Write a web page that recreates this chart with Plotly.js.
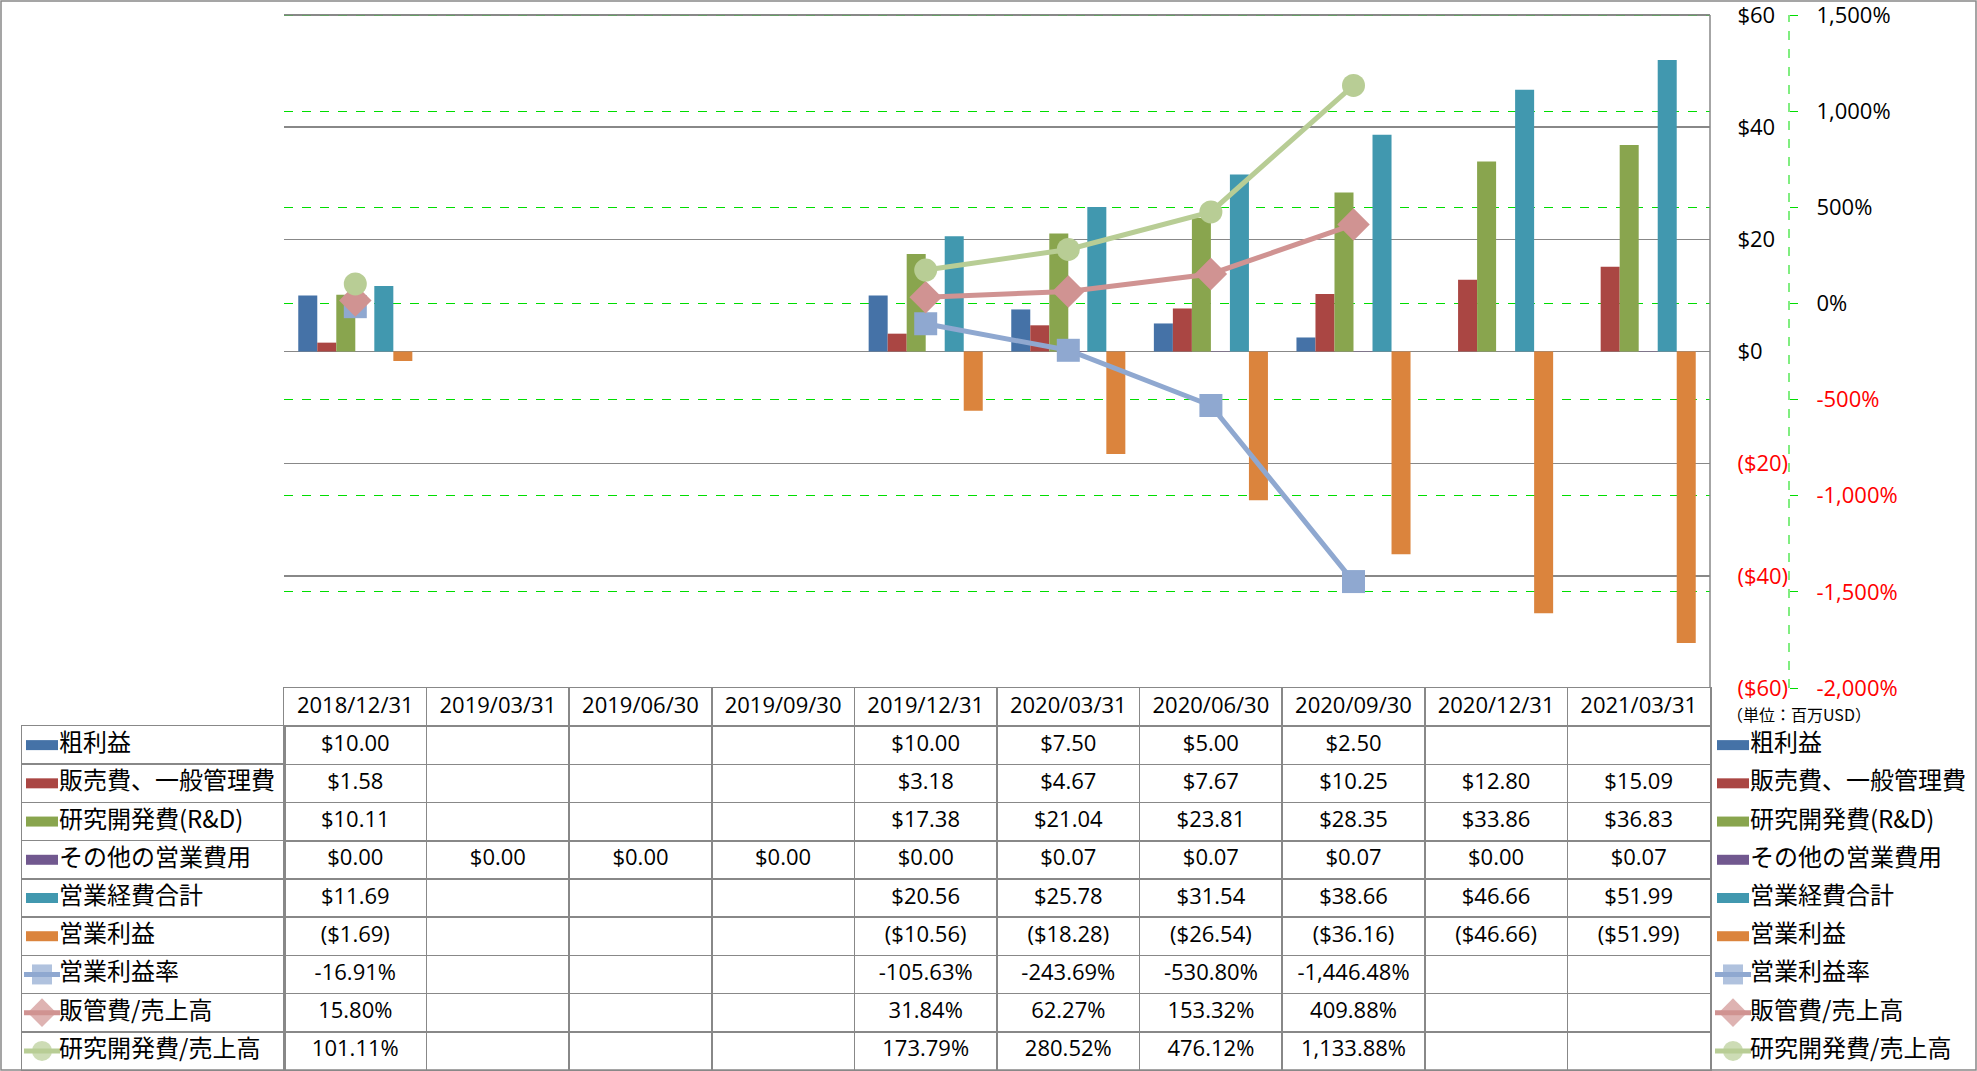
<!DOCTYPE html>
<html>
<head>
<meta charset="utf-8">
<script src="https://cdn.plot.ly/plotly-3.0.1.min.js"></script>
<style>
html,body{margin:0;padding:0;background:#fff;}
#chart{width:1977px;height:1071px;}
</style>
</head>
<body>
<div id="chart"></div>
<script>
// ---------------- DATA ----------------
const dates = ['2018/12/31','2019/03/31','2019/06/30','2019/09/30','2019/12/31','2020/03/31','2020/06/30','2020/09/30','2020/12/31','2021/03/31'];

const grossProfit     = [10.00, null, null, null, 10.00, 7.50, 5.00, 2.50, null, null];
const sgaExpense      = [1.58, null, null, null, 3.18, 4.67, 7.67, 10.25, 12.80, 15.09];
const rdExpense       = [10.11, null, null, null, 17.38, 21.04, 23.81, 28.35, 33.86, 36.83];
const otherOpex       = [0.00, 0.00, 0.00, 0.00, 0.00, 0.07, 0.07, 0.07, 0.00, 0.07];
const totalOpex       = [11.69, null, null, null, 20.56, 25.78, 31.54, 38.66, 46.66, 51.99];
const operatingIncome = [-1.69, null, null, null, -10.56, -18.28, -26.54, -36.16, -46.66, -51.99];

const operatingMargin = [-16.91, null, null, null, -105.63, -243.69, -530.80, -1446.48, null, null];
const sgaRatio        = [15.80, null, null, null, 31.84, 62.27, 153.32, 409.88, null, null];
const rdRatio         = [101.11, null, null, null, 173.79, 280.52, 476.12, 1133.88, null, null];

const barNames  = ['粗利益','販売費、一般管理費','研究開発費(R&D)','その他の営業費用','営業経費合計','営業利益'];
const lineNames = ['営業利益率','販管費/売上高','研究開発費/売上高'];

const yTickVals  = [-60, -40, -20, 0, 20, 40, 60];
const yTickText  = ['($60)','($40)','($20)','$0','$20','$40','$60'];
const y2TickVals = [-2000, -1500, -1000, -500, 0, 500, 1000, 1500];
const y2TickText = ['-2,000%','-1,500%','-1,000%','-500%','0%','500%','1,000%','1,500%'];
const unitLabel  = '（単位：百万USD）';

// ---------------- STYLES ----------------
const barColors  = ['#4572A7','#AA4643','#89A54E','#71588F','#4198AF','#DB843D'];
const lineColors = ['#8FA8D0','#D09392','#B8CD95'];
const markerSymbols = ['square','diamond','circle'];
const markerSizes   = [23, 25, 23];
const GRID = '#888888';
const GREEN = '#00dd00';
const LATIN = '"Open Sans", "Noto Sans CJK JP", sans-serif';
const CJK = '"Noto Sans CJK JP", sans-serif';

const W = 1977, H = 1071;
const px = x => x / W;
const py = y => 1 - y / H;

// axis scale: primary 60 at y=15px, -60 at y=688px; extend range above the top tick
const Y_PER_PX  = 120 / (688 - 15);
const Y2_PER_PX = 3500 / (688 - 15);
const TOP_PAD_PX = 12;

const barData  = [grossProfit, sgaExpense, rdExpense, otherOpex, totalOpex, operatingIncome];
const lineData = [operatingMargin, sgaRatio, rdRatio];

function fmtMoney(v){
  if (v === null || v === undefined) return '';
  const s = Math.abs(v).toLocaleString('en-US',{minimumFractionDigits:2,maximumFractionDigits:2});
  return v < 0 ? '($' + s + ')' : '$' + s;
}
function fmtPct(v){
  if (v === null || v === undefined) return '';
  return v.toLocaleString('en-US',{minimumFractionDigits:2,maximumFractionDigits:2}) + '%';
}
function redIfNeg(vals, texts){
  return texts.map((t,i) => vals[i] < 0 ? '<span style="color:#ff0000">' + t + '</span>' : t);
}

const traces = [];

// bars
barData.forEach((arr, i) => {
  traces.push({type:'bar', x:dates, y:arr, name:barNames[i], xaxis:'x', yaxis:'y',
    marker:{color:barColors[i], line:{width:0}}, showlegend:false, hoverinfo:'skip'});
});
// lines
lineData.forEach((arr, i) => {
  traces.push({type:'scatter', mode:'lines+markers', x:dates, y:arr, name:lineNames[i],
    xaxis:'x', yaxis:'y2', connectgaps:false,
    line:{color:lineColors[i], width:5},
    marker:{symbol:markerSymbols[i], size:markerSizes[i], color:lineColors[i], line:{width:0}},
    showlegend:false, hoverinfo:'skip'});
});

// table header
traces.push({type:'scatter', mode:'text', x:dates, y:dates.map(()=>0), text:dates,
  xaxis:'x2', yaxis:'y3', textposition:'middle center',
  textfont:{family:LATIN, size:22, color:'#000'}, showlegend:false, hoverinfo:'skip'});

// table rows
const allNames = barNames.concat(lineNames);
const rowTexts = barData.map(a => a.map(fmtMoney)).concat(lineData.map(a => a.map(fmtPct)));
rowTexts.forEach((txt, r) => {
  traces.push({type:'scatter', mode:'text', x:dates, y:dates.map(()=>r+1), text:txt,
    xaxis:'x2', yaxis:'y3', textposition:'middle center',
    textfont:{family:LATIN, size:22, color:'#000'}, showlegend:false, hoverinfo:'skip'});
});

// legend keys (left column in table and right side)
function addKeys(xa, ya, x0){
  allNames.forEach((nm, r) => {
    if (r < 6) {
      traces.push({type:'scatter', mode:'lines', x:[x0+4, x0+36], y:[r+1, r+1], xaxis:xa, yaxis:ya,
        line:{color:barColors[r], width:10}, showlegend:false, hoverinfo:'skip'});
    } else {
      const k = r - 6;
      traces.push({type:'scatter', mode:'lines+markers', x:[x0+2, x0+20, x0+38], y:[r+1, r+1, r+1], xaxis:xa, yaxis:ya,
        line:{color:lineColors[k], width:5},
        marker:{symbol:markerSymbols[k], size:[0, markerSizes[k]-3, 0], color:lineColors[k], line:{width:0}},
        showlegend:false, hoverinfo:'skip'});
    }
    traces.push({type:'scatter', mode:'text', x:[x0+37], y:[r+1], text:[nm], xaxis:xa, yaxis:ya,
      textposition:'middle right', textfont:{family:CJK, size:24, color:'#000'},
      showlegend:false, hoverinfo:'skip'});
  });
}
addKeys('x3','y4', 0);
addKeys('x4','y5', 0);

const layout = {
  width: W, height: H,
  margin:{l:0, r:0, t:0, b:0, pad:0},
  paper_bgcolor:'#fff', plot_bgcolor:'rgba(0,0,0,0)',
  showlegend:false,
  hovermode:false,
  barmode:'group', bargap:0.2, bargroupgap:0,
  font:{family:LATIN, size:22, color:'#000'},
  xaxis:{type:'category', categoryorder:'array', categoryarray:dates, range:[-0.5, 9.5],
    domain:[px(284), px(1710)], anchor:'y', showticklabels:false, ticks:'', showgrid:false,
    showline:false, zeroline:false, fixedrange:true},
  yaxis:{domain:[py(688), py(15 - TOP_PAD_PX)], range:[-60, 60 + TOP_PAD_PX * Y_PER_PX], anchor:'x', side:'right',
    tickvals:yTickVals, ticktext:redIfNeg(yTickVals, yTickText),
    tickfont:{family:LATIN, size:22, color:'#000'}, ticklabeloverflow:'allow',
    ticks:'outside', ticklen:22, tickcolor:'rgba(0,0,0,0)',
    showgrid:true, gridcolor:GRID, gridwidth:1.5,
    zeroline:true, zerolinecolor:GRID, zerolinewidth:1.5,
    showline:false, fixedrange:true},
  yaxis2:{overlaying:'y', side:'right', anchor:'free', position:px(1789),
    range:[-2000, 1500 + TOP_PAD_PX * Y2_PER_PX], tickvals:y2TickVals, ticktext:redIfNeg(y2TickVals, y2TickText),
    tickfont:{family:LATIN, size:22, color:'#000'}, ticklabeloverflow:'allow',
    ticks:'outside', ticklen:8, tickcolor:GREEN, tickwidth:1, ticklabelstandoff:14,
    showgrid:true, gridcolor:GREEN, griddash:'dash', gridwidth:1,
    zeroline:false, showline:false, fixedrange:true},
  xaxis2:{type:'category', categoryorder:'array', categoryarray:dates, range:[-0.5, 9.5],
    domain:[px(284), px(1710)], anchor:'y3', tickson:'boundaries', ticks:'',
    showticklabels:false, showgrid:true, gridcolor:GRID, gridwidth:1.5,
    showline:true, mirror:true, linecolor:GRID, linewidth:1.5, zeroline:false, fixedrange:true},
  yaxis3:{domain:[py(1070), py(688)], range:[9.5, -0.5], anchor:'x2', tick0:0.5, dtick:1,
    showticklabels:false, ticks:'', showgrid:true, gridcolor:GRID, gridwidth:1.5,
    showline:true, mirror:true, linecolor:GRID, linewidth:1.5, zeroline:false, fixedrange:true},
  xaxis3:{domain:[px(22), px(284)], range:[0, 262], anchor:'y4', showticklabels:false, ticks:'',
    showgrid:false, zeroline:false, showline:true, mirror:true, linecolor:GRID, linewidth:1.5, fixedrange:true},
  yaxis4:{domain:[py(1070), py(726)], range:[9.5, 0.5], anchor:'x3', tick0:0.5, dtick:1,
    showticklabels:false, ticks:'', showgrid:true, gridcolor:GRID, gridwidth:1.5,
    showline:true, mirror:true, linecolor:GRID, linewidth:1.5, zeroline:false, fixedrange:true},
  xaxis4:{domain:[px(1713), px(1975)], range:[0, 262], anchor:'y5', visible:false, fixedrange:true},
  yaxis5:{domain:[py(1070), py(726)], range:[9.5, 0.5], anchor:'x4', visible:false, fixedrange:true},
  shapes:[
    {type:'line', xref:'x domain', yref:'y', x0:0, x1:1, y0:60, y1:60,
      line:{color:GRID, width:1.5}},
    {type:'line', xref:'x domain', yref:'y', x0:1, x1:1, y0:-60, y1:60,
      line:{color:GRID, width:1.5}},
    {type:'line', xref:'paper', yref:'y2', x0:px(1789), x1:px(1789), y0:-2000, y1:1500,
      line:{color:GREEN, width:1, dash:'dash'}},
    {type:'rect', xref:'paper', yref:'paper', x0:px(1), x1:px(1976), y0:py(1070), y1:py(1),
      line:{color:GRID, width:1.5}, fillcolor:'rgba(0,0,0,0)'}
  ],
  annotations:[
    {xref:'paper', yref:'paper', x:px(1726), y:py(714), xanchor:'left', yanchor:'middle',
      text:unitLabel, showarrow:false, borderpad:0, font:{family:CJK, size:16, color:'#000'}}
  ]
};

Plotly.newPlot('chart', traces, layout, {staticPlot:true, displayModeBar:false});
</script>
</body>
</html>
